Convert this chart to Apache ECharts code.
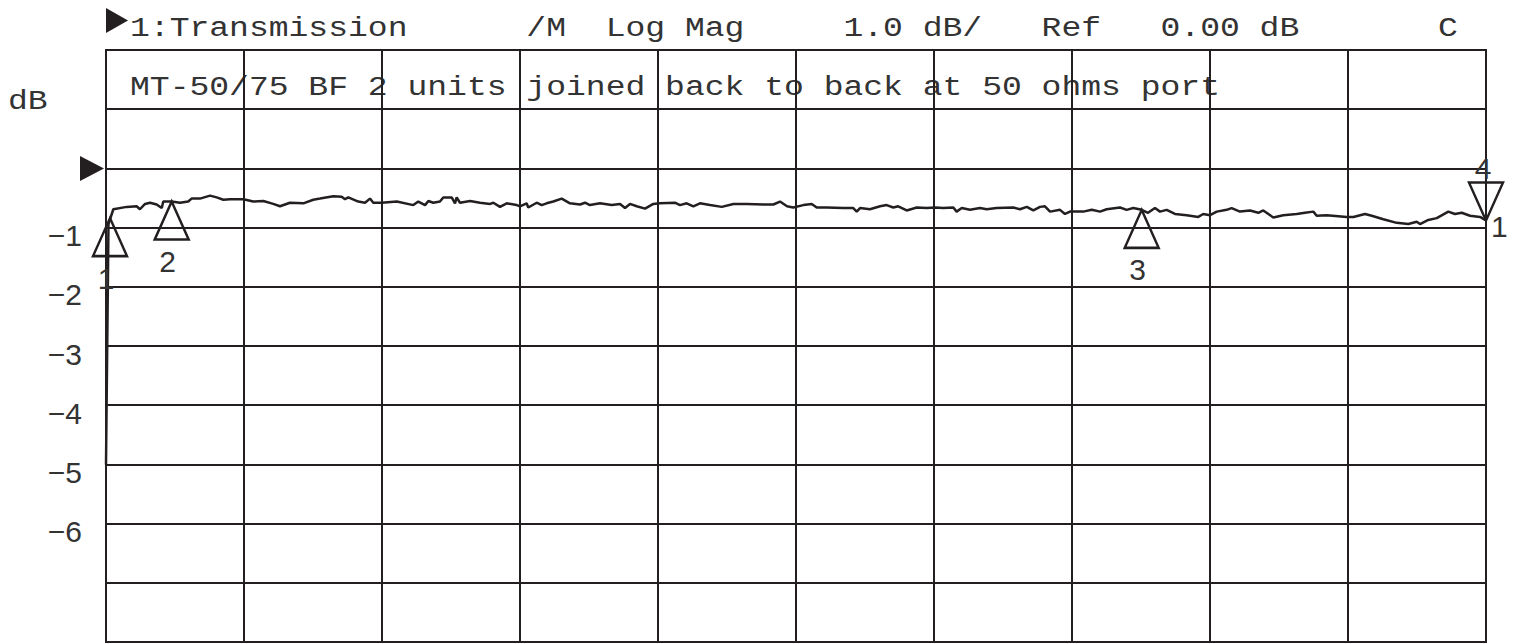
<!DOCTYPE html>
<html>
<head>
<meta charset="utf-8">
<script src="https://cdn.jsdelivr.net/npm/echarts@6/dist/echarts.min.js"></script>
<style>
html,body{margin:0;padding:0;background:#fff;}
#chart{width:1520px;height:644px;}
</style>
</head>
<body>
<div id="chart"></div>
<script>
// ---- data (x in screen divisions 0..10, y in dB) ----
const headerText = '1:Transmission      /M  Log Mag     1.0 dB/   Ref   0.00 dB       C';
const noteText = 'MT-50/75 BF 2 units joined back to back at 50 ohms port';
const unitText = 'dB';
const refLevel = 0;
const yTickValues = [-1, -2, -3, -4, -5, -6];
const yTickLabels = ['\u22121', '\u22122', '\u22123', '\u22124', '\u22125', '\u22126'];

const traceX = [
  0, 0.018, 0.053, 0.150, 0.222, 0.246, 0.283, 0.319, 0.367, 0.404,
  0.415, 0.476, 0.536, 0.596, 0.620, 0.681, 0.754, 0.802, 0.850, 0.899,
  0.995, 1.067, 1.140, 1.212, 1.261, 1.333, 1.430, 1.502,
  1.551, 1.647, 1.708, 1.732, 1.756, 1.828, 1.877, 1.913, 1.937, 1.998,
  2.107, 2.227, 2.263, 2.312, 2.336, 2.372, 2.420, 2.444, 2.505, 2.529,
  2.541, 2.565, 2.638, 2.710, 2.783, 2.807, 2.855, 2.904, 2.976, 3.000,
  3.048, 3.060, 3.121, 3.157, 3.193, 3.241, 3.302, 3.362, 3.435, 3.471,
  3.507, 3.580, 3.664, 3.725, 3.761, 3.797, 3.846, 3.906, 3.966, 4.014,
  4.123, 4.159, 4.208, 4.256, 4.304, 4.377, 4.462, 4.546, 4.643, 4.763,
  4.836,
  4.884, 4.935, 4.980, 5.053, 5.114, 5.150, 5.222, 5.343, 5.415, 5.440,
  5.464, 5.536, 5.609, 5.657, 5.705, 5.741, 5.802, 5.875, 5.947, 6.007,
  6.067, 6.140, 6.164, 6.201, 6.261, 6.333, 6.382, 6.454, 6.575, 6.623,
  6.672, 6.720, 6.768, 6.804,
  6.841, 6.913, 6.949, 6.986, 7.082, 7.143, 7.203, 7.251, 7.348, 7.396,
  7.444, 7.505, 7.551, 7.601, 7.638, 7.686, 7.746, 7.831, 7.915, 7.951,
  8.000, 8.049, 8.121, 8.157, 8.217, 8.290, 8.350, 8.386, 8.459, 8.531,
  8.628, 8.688, 8.749, 8.773, 8.846, 8.991, 9.039, 9.123, 9.172, 9.256,
  9.353, 9.437, 9.498, 9.522, 9.582, 9.643, 9.727, 9.775, 9.824, 9.884,
  9.957, 10.000
];
const traceDb = [
  -5.00, -0.94, -0.69, -0.65, -0.64, -0.69, -0.60, -0.58, -0.61, -0.67,
  -0.56, -0.56, -0.58, -0.56, -0.51, -0.51, -0.46, -0.49, -0.53, -0.52,
  -0.52, -0.56, -0.55, -0.60, -0.64, -0.58, -0.59, -0.53,
  -0.51, -0.47, -0.48, -0.52, -0.49, -0.56, -0.58, -0.51, -0.58, -0.58,
  -0.56, -0.62, -0.56, -0.62, -0.55, -0.58, -0.56, -0.49, -0.49, -0.59,
  -0.49, -0.58, -0.55, -0.58, -0.60, -0.58, -0.65, -0.59, -0.62, -0.64,
  -0.59, -0.66, -0.58, -0.62, -0.59, -0.56, -0.51, -0.59, -0.61, -0.58,
  -0.62, -0.59, -0.62, -0.60, -0.67, -0.60, -0.64, -0.68, -0.60, -0.59,
  -0.58, -0.62, -0.59, -0.64, -0.59, -0.62, -0.65, -0.60, -0.60, -0.61,
  -0.61,
  -0.56, -0.64, -0.66, -0.62, -0.60, -0.66, -0.66, -0.67, -0.67, -0.73,
  -0.67, -0.69, -0.64, -0.62, -0.66, -0.64, -0.71, -0.66, -0.67, -0.66,
  -0.67, -0.66, -0.73, -0.67, -0.70, -0.67, -0.69, -0.67, -0.66, -0.69,
  -0.65, -0.71, -0.65, -0.64,
  -0.73, -0.70, -0.77, -0.73, -0.73, -0.70, -0.73, -0.69, -0.66, -0.70,
  -0.67, -0.70, -0.75, -0.67, -0.73, -0.70, -0.77, -0.79, -0.82, -0.77,
  -0.79, -0.73, -0.70, -0.67, -0.73, -0.71, -0.75, -0.71, -0.83, -0.79,
  -0.77, -0.75, -0.73, -0.80, -0.79, -0.82, -0.82, -0.77, -0.80, -0.86,
  -0.92, -0.94, -0.90, -0.94, -0.87, -0.84, -0.73, -0.77, -0.75, -0.80,
  -0.82, -0.88
];

const markerX = [0.029, 0.476, 7.505, 10.0];
const markerDb = [-0.84, -0.56, -0.70, -0.88];
const markerNames = ['1', '2', '3', '4'];
const markerDir = ['up', 'up', 'up', 'down'];
const traceEndLabel = '1';

// ---- styling ----
const ink = '#231f20';
const textInk = '#333333';
const monoFont = '"Liberation Mono", "DejaVu Sans Mono", monospace';
const sansFont = '"Liberation Sans", Arial, sans-serif';
const monoScale = 1.18;

const chart = echarts.init(document.getElementById('chart'), null, {renderer: 'svg'});

const tracePoints = traceX.map((x, i) => [x, traceDb[i]]);
const upTri = 'path://M17,0 L34,38 L0,38 Z';
const downTri = 'path://M0,0 L34,0 L17,38 Z';
const markerData = markerX.map((x, i) => {
  const up = markerDir[i] === 'up';
  return {
    value: [x, markerDb[i]],
    name: markerNames[i],
    symbol: up ? upTri : downTri,
    symbolOffset: up ? [0, 19] : [0, -19],
    label: {offset: up ? [-4, 41] : [-3, -33]}
  };
});

const option = {
  animation: false,
  backgroundColor: '#ffffff',
  grid: {left: 106, right: 34, top: 50, bottom: 2, show: true, borderColor: ink, borderWidth: 2, containLabel: false},
  xAxis: {
    type: 'value', min: 0, max: 10, interval: 1,
    axisLine: {show: false}, axisTick: {show: false}, axisLabel: {show: false},
    splitLine: {show: true, lineStyle: {color: ink, width: 2}}
  },
  yAxis: {
    type: 'value', min: -8, max: 2, interval: 1,
    axisLine: {show: false}, axisTick: {show: false},
    axisLabel: {
      show: true, margin: 24, color: textInk, fontFamily: sansFont, fontSize: 30,
      verticalAlign: 'top', lineHeight: 16,
      formatter: function (v) {
        const k = yTickValues.indexOf(v);
        return k >= 0 ? yTickLabels[k] : '';
      }
    },
    splitLine: {show: true, lineStyle: {color: ink, width: 2}}
  },
  graphic: [
    {type: 'polygon', shape: {points: [[106, 8], [128, 20.5], [106, 33]]}, style: {fill: ink}},
    {type: 'text', x: 130, y: 29, scaleX: monoScale, style: {text: headerText, font: '28px ' + monoFont, fill: textInk, verticalAlign: 'middle', align: 'left'}},
    {type: 'text', x: 130, y: 88, scaleX: monoScale, style: {text: noteText, font: '28px ' + monoFont, fill: textInk, verticalAlign: 'middle', align: 'left'}},
    {type: 'text', x: 8, y: 102, scaleX: monoScale, style: {text: unitText, font: '28px ' + monoFont, fill: textInk, verticalAlign: 'middle', align: 'left'}}
  ],
  series: [
    {
      type: 'line', data: tracePoints, showSymbol: false, symbol: 'none',
      lineStyle: {color: ink, width: 2.5}, clip: false, z: 3,
      endLabel: {show: true, formatter: traceEndLabel, color: textInk, fontFamily: sansFont, fontSize: 30, distance: 5, offset: [0, 6]}
    },
    {
      type: 'scatter', data: [[0, refLevel]], clip: false, z: 4,
      symbol: 'path://M0,0 L24,12.5 L0,25 Z', symbolSize: [24, 25], symbolOffset: [-14, 0],
      itemStyle: {color: ink, opacity: 1}
    },
    {
      type: 'scatter', data: markerData, clip: false, z: 5,
      symbolSize: [34, 38],
      itemStyle: {color: 'rgba(0,0,0,0)', borderColor: ink, borderWidth: 2.5, opacity: 1},
      label: {show: true, position: 'inside', formatter: '{b}', color: textInk, fontFamily: sansFont, fontSize: 30}
    }
  ]
};
chart.setOption(option);
</script>
</body>
</html>
